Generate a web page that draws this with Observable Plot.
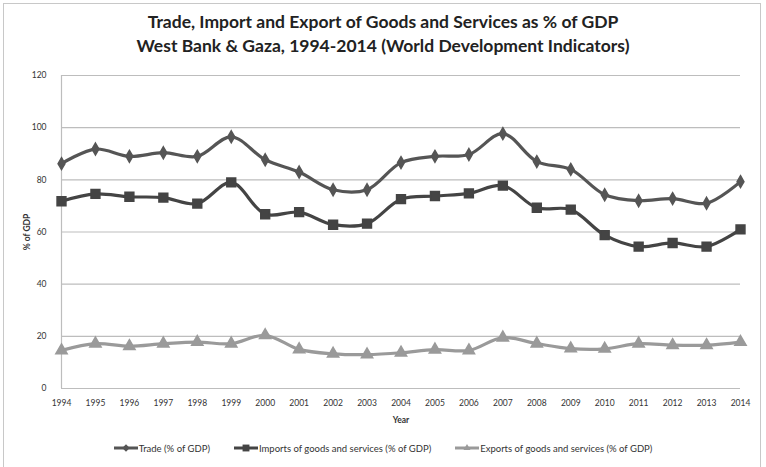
<!DOCTYPE html>
<html>
<head>
<meta charset="utf-8">
<script src="https://cdn.jsdelivr.net/npm/d3@7"></script>
<script src="https://cdn.jsdelivr.net/npm/@observablehq/plot@0.6"></script>
<style>
  html, body { margin: 0; padding: 0; background: #fff; }
  #frame { position: absolute; left: 3px; top: 3px; width: 758px; height: 470px; border: 1px solid #c8c8c8; box-sizing: border-box; }
  #wrap { position: absolute; left: 0; top: 0; width: 766px; height: 467px; font-family: Lato, "Open Sans", sans-serif; }
  #title { position: absolute; left: 0; top: 10px; width: 766px; text-align: center; font-weight: bold; font-size: 17.5px; line-height: 24px; color: #222; }
  #chart { position: absolute; left: 0; top: 62px; }
  #legend { position: absolute; left: 0; top: 442px; width: 766px; display: flex; justify-content: center; gap: 24px; font-size: 9.5px; color: #333; align-items: center; }
  #legend .item { display: flex; align-items: center; }
  #legend svg { margin-right: 1px; }
</style>
</head>
<body>
<div id="wrap">
  <div id="frame"></div>
  <div id="title">Trade, Import and Export of Goods and Services as % of GDP<br>West Bank &amp; Gaza, 1994-2014 (World Development Indicators)</div>
  <div id="chart"></div>
  <div id="legend"></div>
</div>
<script>
const years = [1994,1995,1996,1997,1998,1999,2000,2001,2002,2003,2004,2005,2006,2007,2008,2009,2010,2011,2012,2013,2014];
const trade   = [86.2,91.8,89.0,90.4,89.0,96.5,87.7,83.0,76.2,76.2,86.6,89.0,89.7,97.7,87.0,84.0,74.3,72.0,72.8,71.0,79.3];
const imports = [71.8,74.6,73.5,73.2,70.9,79.0,66.8,67.6,62.8,63.2,72.6,73.8,74.8,77.8,69.3,68.6,58.8,54.4,55.8,54.4,61.0];
const exports = [14.6,17.2,16.2,17.2,17.8,17.2,20.4,15.0,13.3,13.0,13.7,14.9,14.6,19.5,17.2,15.3,15.2,17.2,16.6,16.6,17.8];
const yTicks = [0,20,40,60,80,100,120];
const seriesNames = ["Trade (% of GDP)","Imports of goods and services (% of GDP)","Exports of goods and services (% of GDP)"];
const seriesColors = ["#555555","#444444","#9a9a9a"];
const seriesSymbols = ["diamond","square","triangle"];
const seriesSizes = [3.6,5,4.2];
const allValues = [trade, imports, exports];

const data = [];
allValues.forEach((vals, si) => {
  vals.forEach((v, i) => data.push({series: seriesNames[si], year: years[i], value: v}));
});

const marks = [
  Plot.ruleY(yTicks.filter(d => d > 0), {stroke: "#bdbdbd", strokeWidth: 1.2}),
  Plot.ruleY([0], {stroke: "#bdbdbd", strokeWidth: 1.2}),
  Plot.ruleX([1994], {stroke: "#bdbdbd", strokeWidth: 1.2, x: () => 1994}),
  Plot.axisY({ticks: yTicks, tickSize: 0, tickPadding: 15, fontSize: 8.5, label: "% of GDP", labelAnchor: "center", labelArrow: "none", labelOffset: 38, fill: "#333"}),
  Plot.axisX({ticks: years, tickFormat: d => String(d), tickSize: 0, tickPadding: 11, fontSize: 8.5, label: "Year", labelAnchor: "center", labelArrow: "none", labelOffset: 34, fill: "#333"})
];
seriesNames.forEach((name, si) => {
  const sub = data.filter(d => d.series === name);
  marks.push(Plot.line(sub, {x: "year", y: "value", stroke: seriesColors[si], strokeWidth: 3.2, curve: "catmull-rom"}));
  marks.push(Plot.dot(sub, {x: "year", y: "value", fill: seriesColors[si], stroke: seriesColors[si], symbol: seriesSymbols[si], r: seriesSizes[si]}));
});

const chart = Plot.plot({
  width: 766,
  height: 368,
  marginLeft: 61,
  marginRight: 26,
  marginTop: 13,
  marginBottom: 42,
  style: {fontFamily: "Lato, 'Open Sans', sans-serif", background: "transparent"},
  x: {domain: [1994, 2014]},
  y: {domain: [0, 120]},
  marks
});
chart.querySelectorAll("g[aria-label='y-axis label'] text, g[aria-label='x-axis label'] text").forEach(t => { t.setAttribute("font-weight", "bold"); t.setAttribute("font-size", "8.5"); });
document.getElementById("chart").appendChild(chart);

const legend = document.getElementById("legend");
seriesNames.forEach((name, si) => {
  const item = document.createElement("div");
  item.className = "item";
  const sym = d3.symbol().type(si === 0 ? d3.symbolDiamond2 : si === 1 ? d3.symbolSquare2 : d3.symbolTriangle2).size(si === 1 ? 60 : 36)();
  item.innerHTML = `<svg width="24" height="12"><line x1="0" y1="6" x2="24" y2="6" stroke="${seriesColors[si]}" stroke-width="3"/><path d="${sym}" transform="translate(12,6)" fill="${seriesColors[si]}"/></svg><span>${name}</span>`;
  legend.appendChild(item);
});
</script>
</body>
</html>
